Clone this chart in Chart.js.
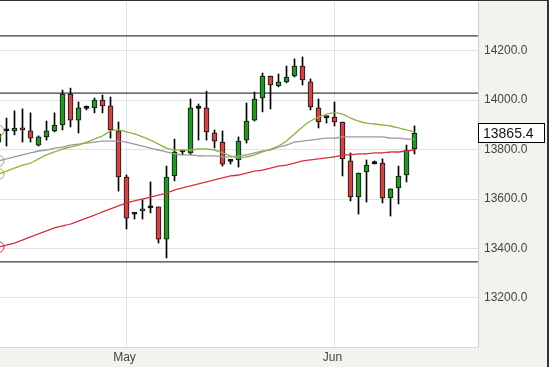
<!DOCTYPE html>
<html>
<head>
<meta charset="utf-8">
<script src="https://cdn.jsdelivr.net/npm/chart.js@4.4.0/dist/chart.umd.min.js"></script>
<style>
  html, body { margin: 0; padding: 0; background: #fff; }
  canvas { display: block; }
</style>
</head>
<body>
<canvas id="bieuDoNen" width="549" height="367"></canvas>
<script>
// candles, first one is half cut off at the left edge (index -1)
const firstIndex = -1;
const opens  = [13830, 13877, 13875, 13887, 13875, 13818, 13851, 13875, 13899, 14024, 13919, 13968, 13968, 14000, 13976, 13875, 13689, 13541, 13552, 13564, 13568, 13438, 13693, 13790, 13786, 13966, 13968, 13867, 13830, 13754, 13758, 13838, 13919, 14008, 14097, 14057, 14073, 14097, 14137, 14073, 13968, 13931, 13931, 13911, 13754, 13608, 13709, 13745, 13745, 13604, 13645, 13697, 13802];
const highs  = [13887, 13927, 13956, 13964, 13948, 13855, 13915, 13948, 14040, 14048, 13992, 13976, 14008, 14020, 14012, 13911, 13697, 13544, 13596, 13669, 13568, 13733, 13842, 13798, 14004, 13984, 14036, 13879, 13875, 13754, 13851, 13988, 14032, 14109, 14097, 14105, 14137, 14166, 14174, 14085, 14004, 13931, 13992, 13911, 13786, 13705, 13758, 13754, 13762, 13641, 13733, 13818, 13895];
const lows   = [13798, 13814, 13859, 13830, 13830, 13814, 13838, 13871, 13879, 13891, 13867, 13960, 13948, 13948, 13846, 13632, 13479, 13519, 13519, 13544, 13422, 13362, 13673, 13778, 13778, 13838, 13838, 13806, 13733, 13741, 13729, 13826, 13915, 13952, 13964, 14053, 14069, 14093, 14061, 13960, 13887, 13907, 13895, 13693, 13592, 13539, 13588, 13741, 13584, 13531, 13580, 13669, 13782];
const closes = [13862, 13875, 13887, 13879, 13846, 13851, 13875, 13899, 14024, 13919, 13968, 13966, 14000, 13976, 13879, 13689, 13523, 13539, 13560, 13566, 13438, 13689, 13790, 13792, 13968, 13968, 13871, 13834, 13741, 13752, 13834, 13915, 14004, 14097, 14061, 14073, 14093, 14137, 14081, 13972, 13911, 13929, 13911, 13762, 13608, 13705, 13737, 13743, 13604, 13641, 13693, 13798, 13865.4];

// moving averages read at each candle
const maFast = [13701, 13713, 13725, 13737, 13745, 13762, 13778, 13790, 13802, 13810, 13818, 13830, 13842, 13855, 13875, 13879, 13871, 13863, 13851, 13838, 13822, 13806, 13798, 13798, 13798, 13802, 13802, 13798, 13786, 13774, 13766, 13770, 13778, 13790, 13802, 13814, 13834, 13863, 13891, 13915, 13931, 13943, 13948, 13943, 13927, 13915, 13907, 13903, 13899, 13895, 13887, 13879, 13871];
const maMid  = [13754, 13762, 13770, 13778, 13786, 13794, 13798, 13806, 13810, 13818, 13822, 13826, 13830, 13834, 13834, 13834, 13830, 13822, 13814, 13806, 13798, 13790, 13782, 13778, 13778, 13774, 13774, 13774, 13770, 13770, 13774, 13778, 13786, 13794, 13798, 13810, 13818, 13830, 13834, 13838, 13842, 13846, 13846, 13851, 13851, 13851, 13851, 13851, 13851, 13846, 13846, 13842, 13842];
const maSlow = [13406, 13414, 13422, 13434, 13447, 13459, 13471, 13483, 13491, 13499, 13511, 13523, 13535, 13548, 13560, 13572, 13584, 13592, 13600, 13608, 13616, 13624, 13636, 13645, 13653, 13661, 13669, 13677, 13685, 13693, 13697, 13705, 13713, 13717, 13725, 13733, 13737, 13745, 13754, 13758, 13762, 13766, 13770, 13778, 13778, 13782, 13782, 13786, 13786, 13790, 13790, 13794, 13798];

const levels = [14259, 14028, 13346];
const markerLevels = [13875];
const yTicks = [13200, 13400, 13600, 13800, 14000, 14200];
const monthTicks = [15, 41];
const monthLabels = ['May', 'Jun'];

const xMin = -0.8125;
const xMax = 58.9375;
const fontName = '"Liberation Sans", Arial, sans-serif';

const idx = closes.map((_, i) => i + firstIndex);
const last = closes.length - 1;

function mauNen(i) {
    if (Math.abs(closes[i] - opens[i]) < 4) return '#000';
    return closes[i] > opens[i] ? '#1f9c1f' : '#d9423e';
}

function duongTB(values, color) {
    return {
        type: 'line',
        data: idx.map((k, i) => ({ x: k, y: values[i] })),
        borderColor: color,
        borderWidth: 1.3,
        tension: 0.2,
        pointRadius: c => c.dataIndex === 0 ? 5.5 : 0,
        pointBorderColor: color,
        pointBorderWidth: 1,
        pointBackgroundColor: 'rgba(255,255,255,0)'
    };
}

const khungNen = {
    id: 'khungNen',
    beforeDraw(chart) {
        const { ctx, chartArea: a, width, height } = chart;
        ctx.save();
        ctx.fillStyle = '#f3f2ee';
        ctx.fillRect(a.right, 0, width - a.right, height);
        ctx.fillRect(0, a.bottom, width, height - a.bottom);
        ctx.restore();
    },
    afterDraw(chart) {
        const { ctx, chartArea: a, width, height } = chart;
        ctx.save();
        // outer frame
        ctx.fillStyle = '#333';
        ctx.fillRect(0, 0, width, 1);
        ctx.fillRect(width - 2, 0, 2, height);
        // current price box
        const y = Math.round(chart.scales.y.getPixelForValue(closes[last]));
        ctx.fillStyle = '#fff';
        ctx.fillRect(a.right, y - 9, 67, 19);
        ctx.strokeStyle = '#000';
        ctx.lineWidth = 1;
        ctx.strokeRect(a.right + 0.5, y - 9.5, 66, 19);
        ctx.fillStyle = '#111';
        ctx.font = '14px ' + fontName;
        ctx.textBaseline = 'middle';
        ctx.fillText(closes[last].toFixed(1), a.right + 5, y + 1);
        ctx.restore();
    }
};

new Chart(document.getElementById('bieuDoNen').getContext('2d'), {
    type: 'bar',
    data: {
        datasets: [
            duongTB(maFast, '#8db43c'),
            duongTB(maMid, '#9a9a9a'),
            duongTB(maSlow, '#d2333d'),
            {
                type: 'line',
                data: markerLevels.map(v => ({ x: firstIndex, y: v })),
                showLine: false,
                pointRadius: 5.5,
                pointBorderColor: '#8db43c',
                pointBorderWidth: 1,
                pointBackgroundColor: 'rgba(255,255,255,0)'
            },
            {
                // bodies
                data: idx.map((k, i) => ({ x: k, y: [opens[i], closes[i]] })),
                backgroundColor: idx.map((k, i) => mauNen(i)),
                borderColor: '#111',
                borderWidth: 1,
                borderSkipped: false,
                barThickness: 5,
                minBarLength: 2,
                grouped: false
            },
            {
                // wicks
                data: idx.map((k, i) => ({ x: k, y: [lows[i], highs[i]] })),
                backgroundColor: '#000',
                borderWidth: 0,
                barThickness: 1,
                grouped: false
            },
            ...levels.map(v => ({
                type: 'line',
                data: [{ x: xMin, y: v }, { x: xMax, y: v }],
                borderColor: '#3c3c3c',
                borderWidth: 1.2,
                pointRadius: 0
            }))
        ]
    },
    options: {
        responsive: false,
        animation: false,
        layout: { autoPadding: false, padding: { top: 2, left: 0, right: 0, bottom: 0 } },
        plugins: {
            legend: { display: false },
            tooltip: { enabled: false }
        },
        scales: {
            x: {
                type: 'linear',
                min: xMin,
                max: xMax,
                offset: false,
                grid: { color: '#e2e2e2', drawTicks: false, offset: false },
                border: { color: '#d6d6d6' },
                ticks: {
                    color: '#444',
                    padding: 3,
                    labelOffset: -2,
                    font: { family: fontName, size: 12 },
                    callback: v => monthLabels[monthTicks.indexOf(v)] || ''
                },
                afterBuildTicks: s => { s.ticks = monthTicks.map(v => ({ value: v })); },
                afterFit: s => { s.height = 20; s.paddingLeft = 0; s.paddingRight = 0; }
            },
            y: {
                type: 'linear',
                position: 'right',
                min: 13002,
                max: 14396,
                grid: { color: '#e2e2e2', drawTicks: false },
                border: { color: '#d0d0d0' },
                ticks: {
                    color: '#444',
                    padding: 6,
                    font: { family: fontName, size: 12 },
                    callback: v => v.toFixed(1)
                },
                afterBuildTicks: s => { s.ticks = yTicks.map(v => ({ value: v })); },
                afterFit: s => { s.width = 71; s.paddingTop = 0; s.paddingBottom = 0; }
            }
        }
    },
    plugins: [khungNen]
});
</script>
</body>
</html>
